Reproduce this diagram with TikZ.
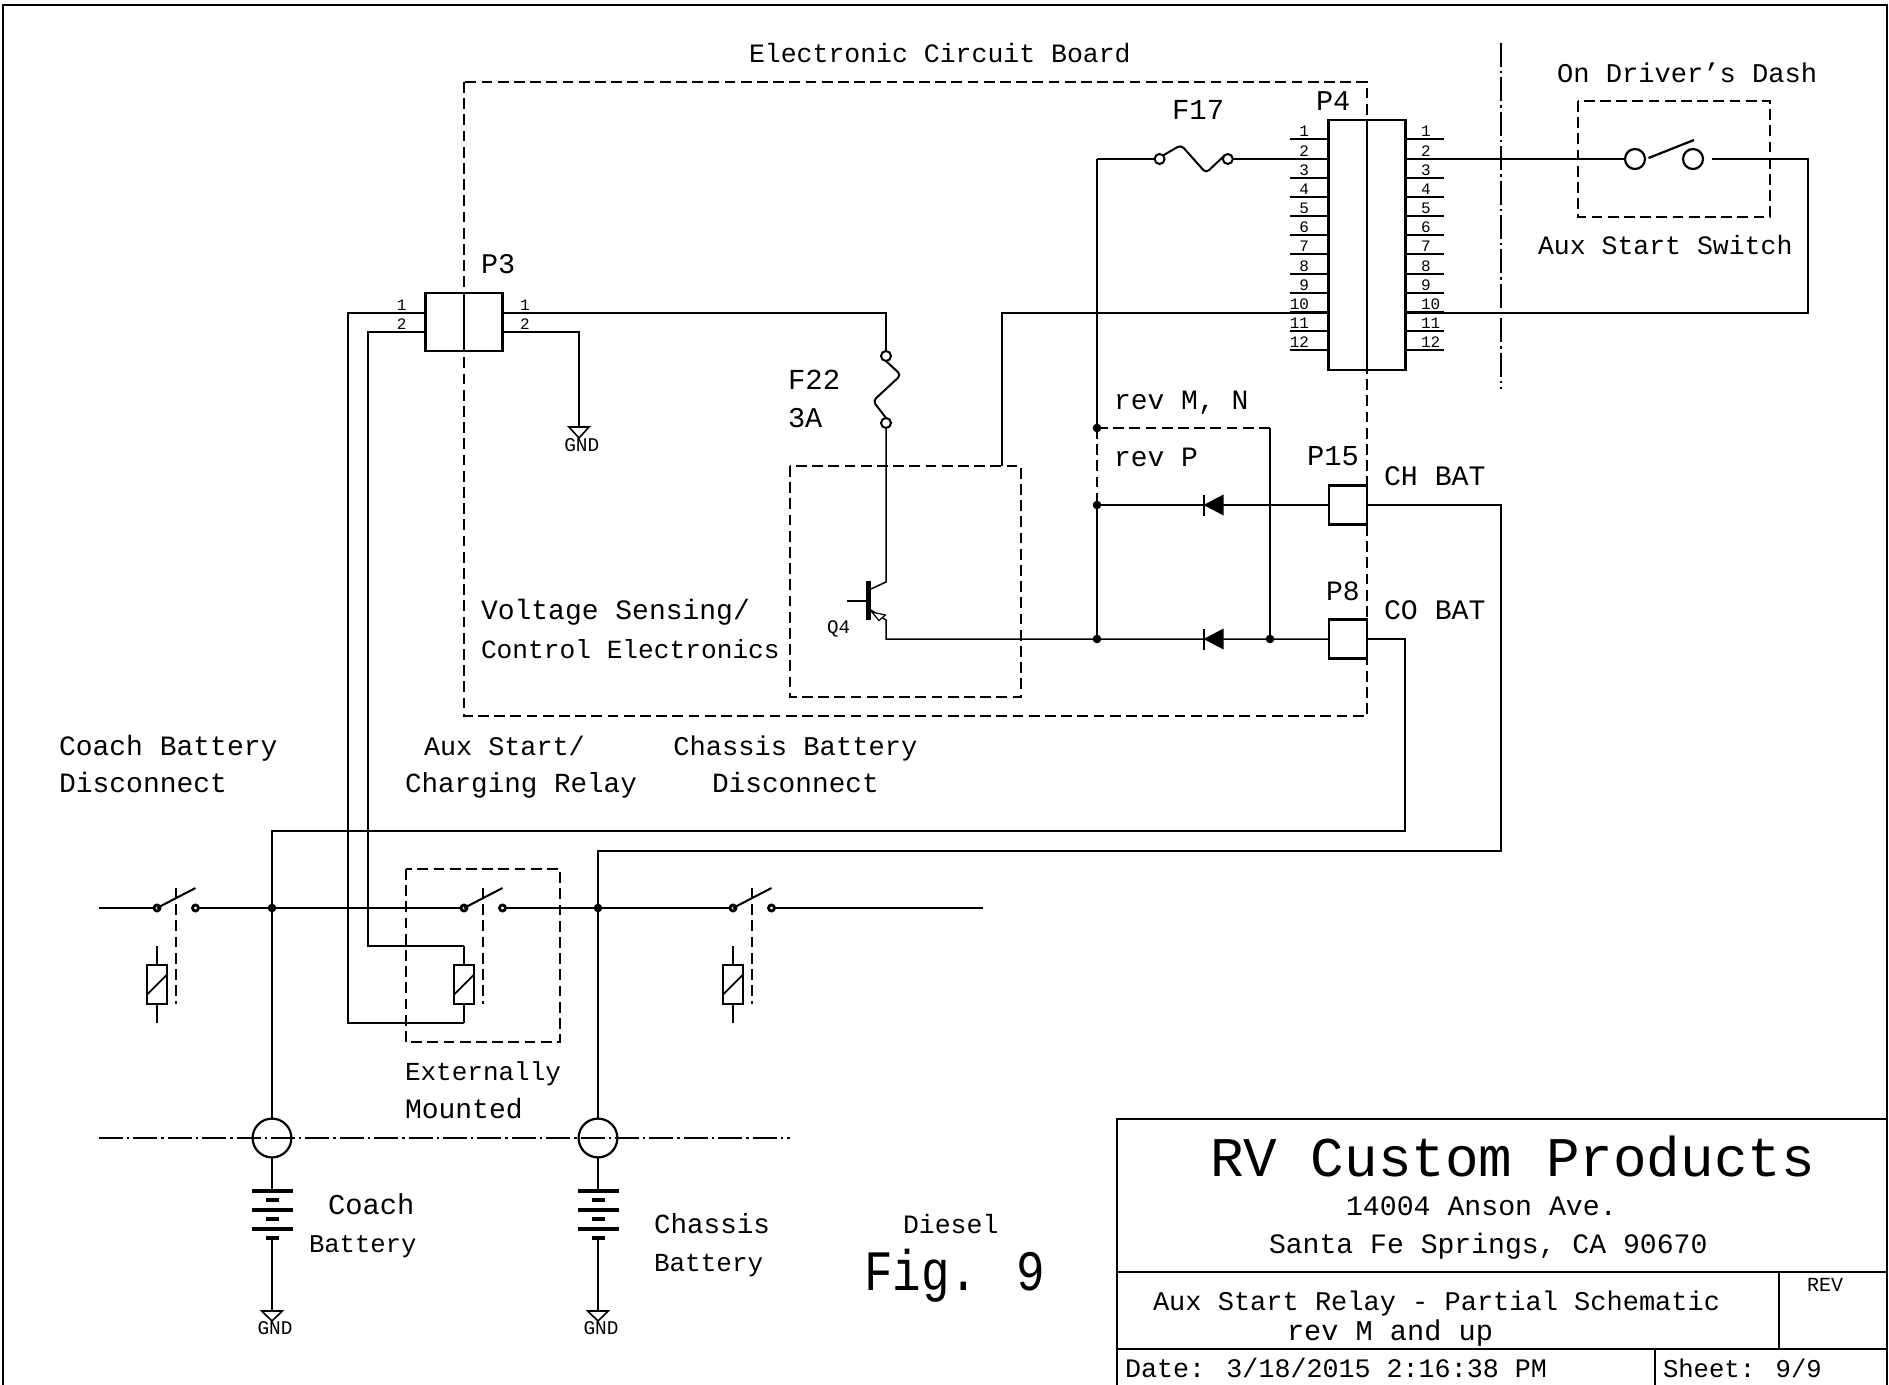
\documentclass[tikz,border=0pt]{standalone}
\usepackage{fontspec}
\usepackage{graphicx}
\setmainfont{Liberation Mono}
\newcommand{\fpx}[1]{\fontsize{#1pt}{#1pt}\selectfont}
\tikzset{
  wire/.style={line width=0.75pt,line join=miter},
  heavy/.style={line width=1.1pt},
  dashbox/.style={line width=0.8pt,dash pattern=on 5.4pt off 2.7pt},
  centerline/.style={line width=0.8pt,dash pattern=on 12pt off 2pt on 1.2pt off 2pt},
  pinbox/.style={draw,line width=1.1pt,inner sep=0pt,outer sep=0pt,fill=white},
  lbl/.style={inner sep=0pt,outer sep=0pt,anchor=base west,font=\fpx{13.25}},
  fs/.style={font=\fpx{#1}},
  pinlbl/.style={inner sep=0pt,outer sep=0pt,anchor=base west,font=\fpx{8}},
  pinlblr/.style={inner sep=0pt,outer sep=0pt,anchor=base east,font=\fpx{8}},
  gndlbl/.style={inner sep=0pt,outer sep=0pt,anchor=base,font=\fpx{9.7}},
}
\begin{document}
\begin{tikzpicture}[x=0.5pt,y=-0.5pt]
\useasboundingbox (0,0) rectangle (1889,1385);
\fill[white] (0,0) rectangle (1889,1385);

% sheet frame
\draw[line width=1.4pt] (3,1385) -- (3,5) -- (1887,5) -- (1887,1385);

% dashed boundaries
\draw[dashbox] (464,82) rectangle (1367,716);
\draw[dashbox] (790,466) rectangle (1021,697);
\draw[dashbox] (1578,101) rectangle (1770,217);
\draw[dashbox] (406,869) rectangle (560,1042);
\draw[centerline] (1501,43) -- (1501,389);
\draw[centerline] (99,1138) -- (790,1138);

% connectors P3 and P4
\node[pinbox,minimum width=38.5pt,minimum height=125pt] (pfour) at (1367,245) {};
\draw[heavy] (pfour.north) -- (pfour.south);
\node[pinbox,minimum width=38.5pt,minimum height=29pt] (pthree) at (464,322) {};
\draw[heavy] (pthree.north) -- (pthree.south);

\foreach \i in {1,...,12}{
  \pgfmathsetmacro{\py}{round(139.3+19.2*(\i-1))}
  \coordinate (fl\i) at (1290,\py);
  \coordinate (fr\i) at (1444,\py);
  \draw[wire] (fl\i) -- (pfour.west |- fl\i);
  \draw[wire] (fr\i) -- (pfour.east |- fr\i);
  \node[pinlblr] (fln\i) at (1309,\py-2.5) {\i};
  \node[pinlbl] (frn\i) at (1421,\py-2.5) {\i};
}
\foreach \i/\py in {1/313,2/332}{
  \node[pinlblr] (tln\i) at (406.5,\py-2.5) {\i};
  \node[pinlbl] (trn\i) at (520,\py-2.5) {\i};
}

% named points
\coordinate (c1) at (348,313);
\coordinate (c2) at (368,332);
\coordinate (c3) at (886,313);
\coordinate (c4) at (579,332);
\coordinate (g1) at (579,427);
\coordinate (f22a) at (886,356);
\coordinate (f22b) at (886,423);
\coordinate (qc) at (886,582);
\coordinate (qe) at (886,620);
\coordinate (qee) at (886,639);
\coordinate (vs) at (1002,466);
\coordinate (vsb) at (1002,313);
\coordinate (jA) at (1097,428);
\coordinate (jB) at (1097,505);
\coordinate (jC) at (1097,639);
\coordinate (jD) at (1270,639);
\coordinate (jE) at (1270,428);
\coordinate (top) at (1097,159);
\coordinate (f17a) at (1159.6,159);
\coordinate (f17b) at (1227.8,159);
\coordinate (sa) at (1635,159);
\coordinate (sb) at (1693,159);
\coordinate (sc) at (1808,159);
\coordinate (sd) at (1808,313);
\coordinate (ba) at (1501,505);
\coordinate (bb) at (1501,851);
\coordinate (bc) at (598,851);
\coordinate (coa) at (1405,639);
\coordinate (cob) at (1405,831);
\coordinate (coc) at (272,831);
\coordinate (jL) at (272,908);
\coordinate (jR) at (598,908);
\coordinate (cl) at (272,1118);
\coordinate (cr) at (598,1118);
\coordinate (busl) at (99,908);
\coordinate (busr) at (983,908);

% P15 and P8
\node[pinbox,minimum width=19.1pt,minimum height=19.5pt] (pfifteen) at (1348,505) {};
\node[pinbox,minimum width=19.1pt,minimum height=19.5pt] (peight) at (1348,639) {};

% wiring
\draw[wire] (pthree.west |- c1) -- (c1) -- (348,1023) -- (464,1023);
\draw[wire] (pthree.west |- c2) -- (c2) -- (368,946) -- (464,946);
\draw[wire] (pthree.east |- c3) -- (c3) -- (f22a);
\draw[wire] (pthree.east |- c4) -- (c4) -- (g1);
\draw[wire] (f22b) -- (qc) -- (871,589);
\draw[wire] (871,610) -- (qe) -- (qee) -- (peight.west);
\draw[wire] (vs) -- (vsb) -- (pfour.west |- vsb);
\draw[wire] (top) -- (jA);
\draw[dashbox] (jA) -- (jB);
\draw[wire] (jB) -- (jC);
\draw[dashbox] (jA) -- (jE);
\draw[wire] (jE) -- (jD);
\draw[wire] (jB) -- (pfifteen.west);
\draw[wire] (top) -- (f17a);
\draw[wire] (f17b) -- (pfour.west |- f17b);
\draw[wire] (pfour.east |- sa) -- (sa);
\draw[wire] (sb) ++(19,0) -- (sc) -- (sd) -- (pfour.east |- sd);
\draw[wire] (pfifteen.east) -- (ba) -- (bb) -- (bc) -- (cr);
\draw[wire] (peight.east) -- (coa) -- (cob) -- (coc) -- (cl);
\draw[wire] (busl) -- (157,908);
\draw[wire] (195,908) -- (464,908);
\draw[wire] (503,908) -- (733,908);
\draw[wire] (771,908) -- (busr);

% junction dots
\foreach \p in {jA,jB,jC,jD,jL,jR}{\fill (\p) circle[radius=4.3];}

% F17 fuse
\draw[wire,line width=1pt,fill=white] (f17a) circle[radius=5];
\draw[wire,line width=1pt,fill=white] (f17b) circle[radius=5];
\draw[line width=1pt,rounded corners=2pt] (1163,155.5) -- (1181,145) -- (1206,173) -- (1224.5,155.5);
% F22 fuse
\draw[wire,line width=1pt,fill=white] (f22a) circle[radius=5];
\draw[wire,line width=1pt,fill=white] (f22b) circle[radius=5];
\draw[line width=1pt,rounded corners=2pt] (f22a) ++(0,5) -- (901,375) -- (873,401) -- (886,418);

% transistor
\draw[line width=2.6pt] (868.3,581) -- (868.3,620);
\draw[wire] (847,601) -- (866,601);
\draw[line width=0.6pt,fill=white] (871.8,612) -- (885.4,615) -- (879,620.5) -- cycle;

% diodes
\foreach \dy/\nm in {505/u,639/l}{
  \fill (1203.6,\dy) -- (1223.5,\dy-10.5) -- (1223.5,\dy+10.5) -- cycle;
  \draw[line width=0.9pt] (1203.6,\dy-10.5) -- (1203.6,\dy+10.5);
}

% panel switch
\draw[line width=1.1pt,fill=white] (sa) circle[radius=10];
\draw[line width=1.1pt,fill=white] (sb) circle[radius=10];
\draw[line width=1.1pt] (1648.5,158) -- (1694,140);

% relays and contactors
\foreach \sx/\nm in {157/a,464/b,733/c}{
  \begin{scope}[shift={(\sx,0)}]
    \draw[line width=1.4pt,fill=white] (0,908) circle[radius=3];
    \draw[line width=1.4pt,fill=white] (38.5,908) circle[radius=3];
    \draw[line width=1pt] (0,908) -- (38.5,888);
    \draw[dashbox] (19,888) -- (19,1004);
    \draw[wire] (0,946) -- (0,965);
    \draw[wire] (0,1004) -- (0,1023);
    \draw[line width=0.9pt] (-10,965) rectangle (10,1004);
    \draw[line width=0.9pt] (-10,994.5) -- (10,974.7);
  \end{scope}
}

% batteries, feedthroughs and grounds
\foreach \bx/\nm in {272/a,598/b}{
  \begin{scope}[shift={(\bx,0)}]
    \draw[line width=1.1pt] (0,1138) circle[radius=19.4];
    \draw[wire] (0,1157) -- (0,1191);
    \foreach \ly in {1191,1210,1229}{\draw[line width=2pt] (-20.5,\ly) -- (20.5,\ly);}
    \foreach \sy in {1200,1219,1238}{\draw[line width=2pt] (-6.5,\sy) -- (6.5,\sy);}
    \draw[wire] (0,1238) -- (0,1311);
    \draw[line width=0.8pt] (-10.3,1311) -- (10.3,1311) -- (0,1321) -- cycle;
    \node[gndlbl] (gnd\nm) at (3,1334) {GND};
  \end{scope}
}
\draw[line width=0.8pt] (569,427) -- (589,427) -- (579,438) -- cycle;
\node[gndlbl] (gndc) at (581.8,451.7) {GND};

% title block
\draw[line width=1.2pt] (1117,1385) -- (1117,1119) -- (1887,1119);
\draw[line width=1pt] (1117,1272) -- (1887,1272);
\draw[line width=1pt] (1117,1349) -- (1887,1349);
\draw[line width=1pt] (1779,1272) -- (1779,1349);
\draw[line width=1pt] (1655,1349) -- (1655,1385);

% labels
\node[lbl] (tboard) at (749,63) {Electronic Circuit Board};
\node[lbl,fs=14.5] (tf17) at (1172,120) {F17};
\node[lbl,fs=14.3] (tp4) at (1316,110.7) {P4};
\node[lbl,fs=13.55] (tdash) at (1557,82.5) {On Driver's Dash};
\node[lbl] (taux) at (1538,255) {Aux Start Switch};
\node[lbl,fs=14.2] (tp3) at (481,274) {P3};
\node[lbl,fs=14.5] (tf22) at (788,389.3) {F22};
\node[lbl,fs=14.3] (t3a) at (788,427.7) {3A};
\node[lbl,fs=14] (trevmn) at (1114,409) {rev M, N};
\node[lbl,fs=14] (trevp) at (1114,466.7) {rev P};
\node[lbl,fs=14.4] (tp15) at (1307,466) {P15};
\node[lbl,fs=14.1] (tch) at (1384,485) {CH BAT};
\node[lbl,fs=14] (tp8) at (1326,600) {P8};
\node[lbl,fs=14.1] (tco) at (1384,619) {CO BAT};
\node[lbl,fs=9.6] (tq4) at (827,633) {Q4};
\node[lbl,fs=14] (tvs) at (481,619.6) {Voltage Sensing/};
\node[lbl,fs=13.1] (tce) at (481,658) {Control Electronics};
\node[lbl,fs=14] (tcbd) at (59,755) {Coach Battery};
\node[lbl,fs=14] (tcbd2) at (59,792.5) {Disconnect};
\node[lbl,fs=13.4] (tas) at (424,755) {Aux Start/};
\node[lbl,fs=13.8] (tcr) at (405,792.5) {Charging Relay};
\node[lbl,fs=13.55] (tchd) at (673.4,755) {Chassis Battery};
\node[lbl,fs=13.9] (tchd2) at (712,792.5) {Disconnect};
\node[lbl,fs=13] (text) at (405,1080.6) {Externally};
\node[lbl,fs=14] (tmou) at (405,1118.8) {Mounted};
\node[lbl,fs=14.4] (tcoach) at (328,1214.3) {Coach};
\node[lbl,fs=12.8] (tcbat) at (309,1252.5) {Battery};
\node[lbl,fs=13.8] (tchas) at (654,1233.4) {Chassis};
\node[lbl,fs=13] (tcbat2) at (654,1271.5) {Battery};
\node[lbl] (tdies) at (903,1233.5) {Diesel};
\node[inner sep=0pt,outer sep=0pt,anchor=base west,font=\fpx{23.8}] (tfig) at (864,1290.7) {\scalebox{1}[1.2]{Fig. 9}};
\node[inner sep=0pt,outer sep=0pt,anchor=base west,font=\fpx{28}] (trv) at (1210,1176.7) {RV Custom Products};
\node[lbl,fs=14.1] (taddr) at (1346,1215) {14004 Anson Ave.};
\node[lbl,fs=14.05] (tcity) at (1269,1253) {Santa Fe Springs, CA 90670};
\node[lbl,fs=13.5] (tpart) at (1153,1310.5) {Aux Start Relay - Partial Schematic};
\node[lbl,fs=14.3] (trev) at (1287,1340) {rev M and up};
\node[inner sep=0pt,outer sep=0pt,anchor=base west,font=\fpx{10}] (trevb) at (1807,1291.7) {REV};
\node[lbl,fs=13.35] (tdate) at (1125,1377.7) {Date: 3/18/2015 2:16:38 PM};
\node[lbl,fs=12.8] (tsheet) at (1663,1377.7) {Sheet: 9/9};
\end{tikzpicture}
\end{document}
